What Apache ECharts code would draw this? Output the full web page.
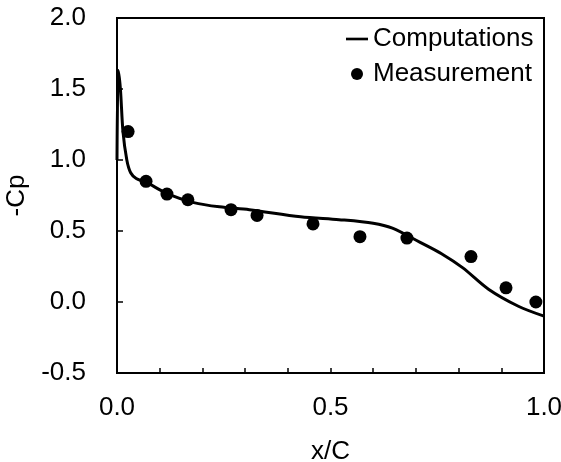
<!DOCTYPE html>
<html>
<head>
<meta charset="utf-8">
<script src="https://cdn.jsdelivr.net/npm/echarts@6/dist/echarts.min.js"></script>
<style>
    html, body { margin: 0; padding: 0; background: #fff; }
    #container { width: 561px; height: 462px; }
</style>
</head>
<body>
<div id="container"></div>
<script>
// computed -Cp along the chord
var compX = [0.0, 0.003, 0.008, 0.014, 0.023, 0.032, 0.045, 0.07, 0.12, 0.18, 0.24, 0.31, 0.43, 0.52, 0.6, 0.645, 0.71, 0.76, 0.81, 0.87, 0.94, 1.0];
var compY = [1.0, 1.63, 1.5, 1.2, 1.0, 0.91, 0.87, 0.84, 0.76, 0.7, 0.67, 0.65, 0.6, 0.58, 0.555, 0.52, 0.42, 0.34, 0.24, 0.09, -0.03, -0.1];
// measured points
var measX = [0.026, 0.068, 0.117, 0.166, 0.267, 0.328, 0.459, 0.569, 0.679, 0.829, 0.911, 0.981];
var measY = [1.2, 0.85, 0.76, 0.72, 0.65, 0.61, 0.55, 0.46, 0.45, 0.32, 0.1, 0.0];

var font = 'Liberation Sans, Arial, sans-serif';
var fs = 26;
var dom = document.getElementById("container");
var myChart = echarts.init(dom, null, { renderer: 'canvas' });

var pairs = (xs, ys) => xs.map((x, i) => [x, ys[i]]);

var option = {
    backgroundColor: '#fff',
    animation: false,
    textStyle: { fontFamily: font, color: '#000' },
    grid: {
        left: 117, top: 18, right: 17, bottom: 89,
        outerBoundsMode: 'none',
        show: true, borderColor: '#000', borderWidth: 2
    },
    legend: {
        orient: 'vertical',
        left: 346, top: 26, padding: 0,
        itemWidth: 22, itemHeight: 12, itemGap: 9,
        textStyle: { fontFamily: font, fontSize: fs, color: '#000' },
        data: [
            { name: 'Computations', icon: 'path://M0,0H25V3H0Z' },
            { name: 'Measurement', icon: 'circle' }
        ]
    },
    xAxis: {
        type: 'value',
        min: 0, max: 1, interval: 0.1,
        name: 'x/C', nameLocation: 'middle', nameGap: 66,
        nameTextStyle: { fontFamily: font, fontSize: fs, color: '#000' },
        axisLine: { onZero: false, lineStyle: { color: '#000', width: 2 } },
        axisTick: { inside: true, length: 5, lineStyle: { color: '#000', width: 1.5 } },
        axisLabel: {
            margin: 22, fontFamily: font, fontSize: fs, color: '#000',
            formatter: v => Math.abs(v * 2 - Math.round(v * 2)) < 1e-6 ? v.toFixed(1) : ''
        },
        splitLine: { show: false }
    },
    yAxis: {
        type: 'value',
        min: -0.5, max: 2.0, interval: 0.5,
        name: '-Cp', nameLocation: 'middle', nameGap: 86,
        nameTextStyle: { fontFamily: font, fontSize: fs, color: '#000' },
        axisLine: { show: true, lineStyle: { color: '#000', width: 2 } },
        axisTick: { show: true, inside: true, length: 6, lineStyle: { color: '#000', width: 1.5 } },
        axisLabel: {
            margin: 31, fontFamily: font, fontSize: fs, color: '#000',
            formatter: v => v.toFixed(1)
        },
        splitLine: { show: false }
    },
    series: [
        {
            name: 'Computations',
            type: 'line',
            symbol: 'none',
            smooth: 0.3,
            data: pairs(compX, compY),
            lineStyle: { color: '#000', width: 3 },
            itemStyle: { color: '#000' }
        },
        {
            name: 'Measurement',
            type: 'scatter',
            symbol: 'circle',
            symbolSize: 13,
            data: pairs(measX, measY),
            itemStyle: { color: '#000', opacity: 1 }
        }
    ]
};
myChart.setOption(option, true);
</script>
</body>
</html>
